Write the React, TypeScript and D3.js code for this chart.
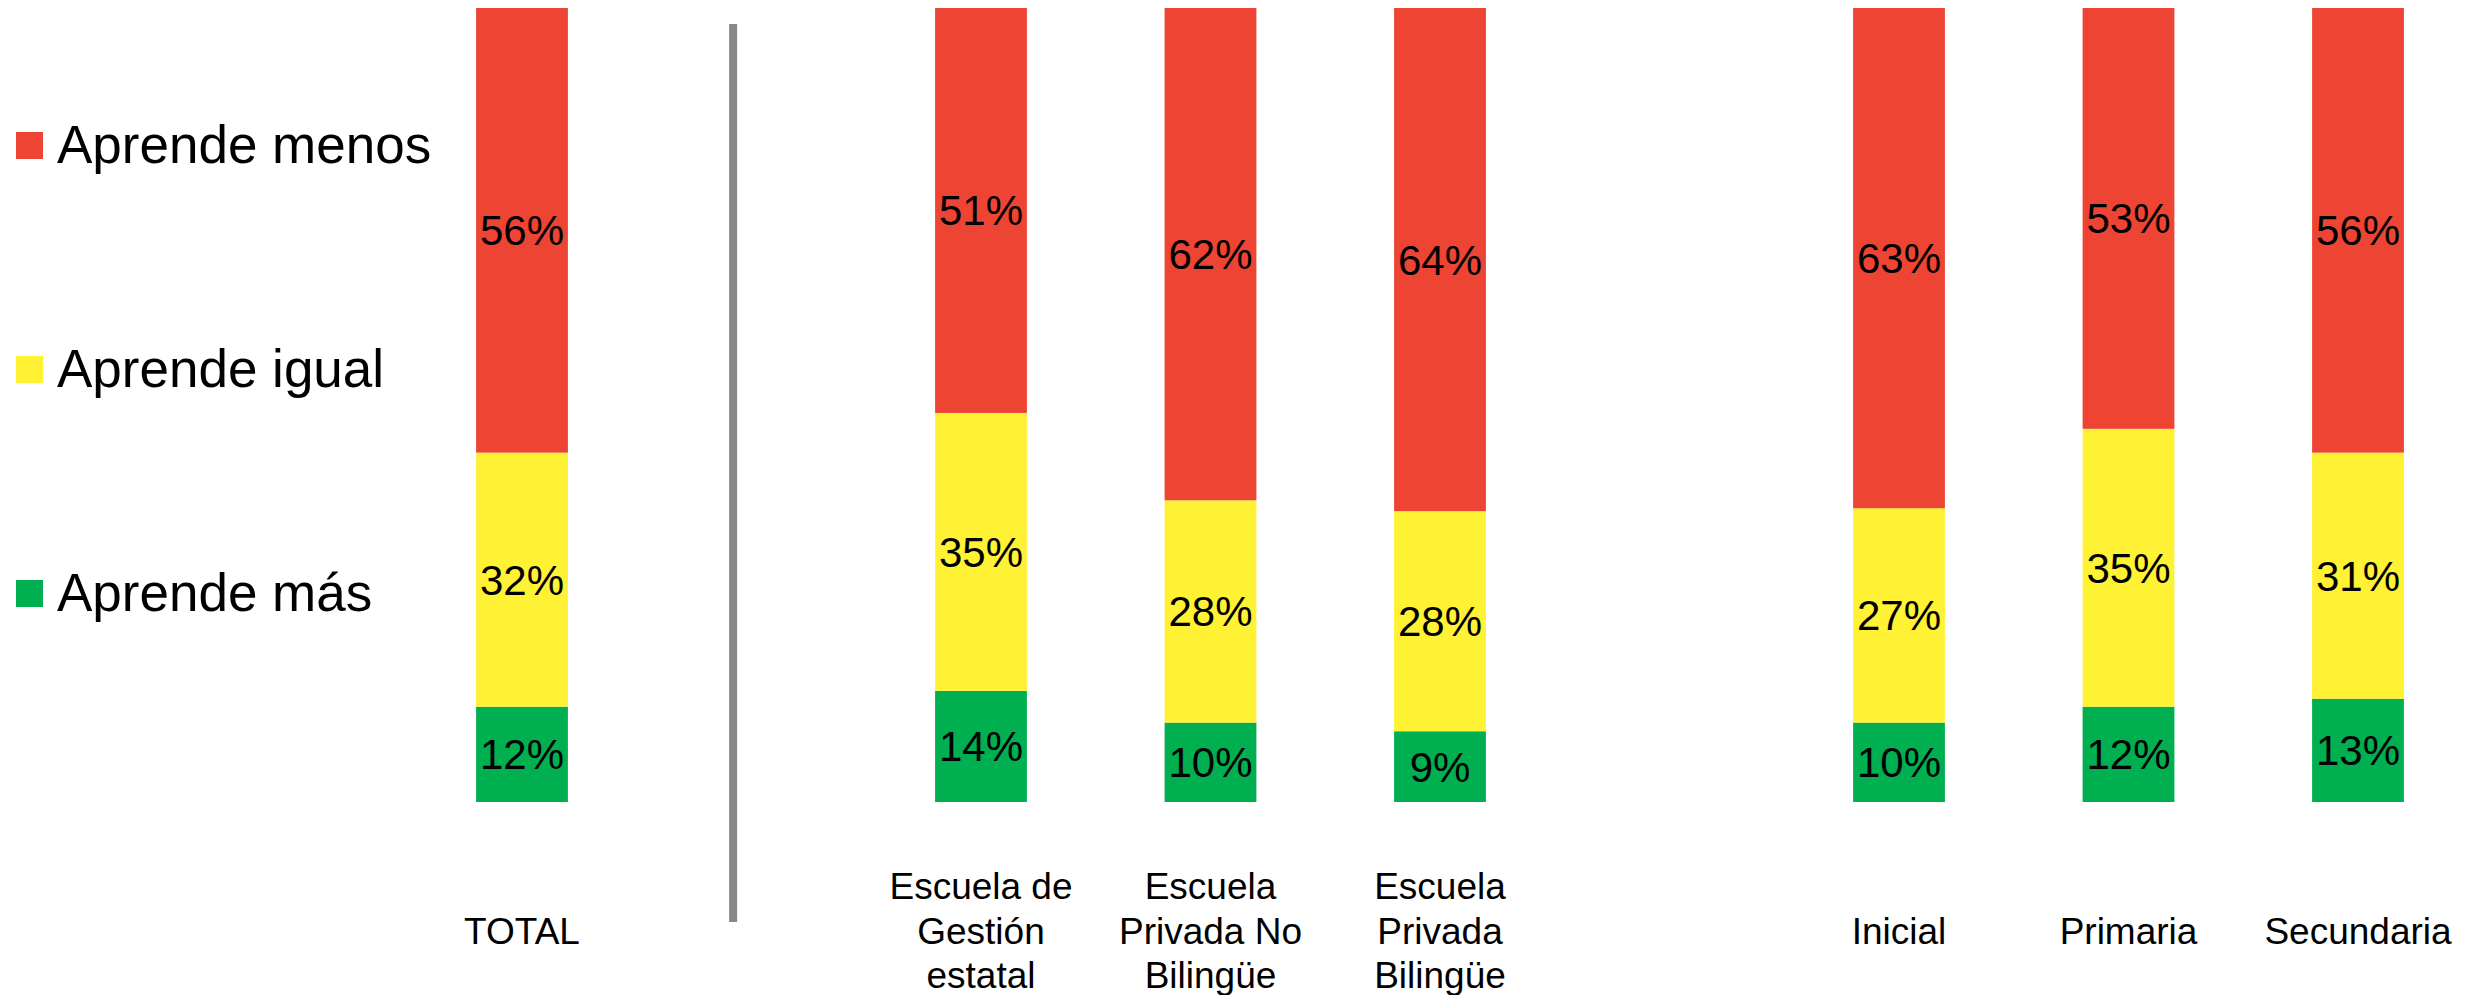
import React from "react";
import * as d3 from "d3";

const categories = [
  "TOTAL",
  "Escuela de Gestión estatal",
  "Escuela Privada No Bilingüe",
  "Escuela Privada Bilingüe",
  "Inicial",
  "Primaria",
  "Secundaria",
];
const labelLines = [
  ["TOTAL"],
  ["Escuela de", "Gestión", "estatal"],
  ["Escuela", "Privada No", "Bilingüe"],
  ["Escuela", "Privada", "Bilingüe"],
  ["Inicial"],
  ["Primaria"],
  ["Secundaria"],
];
const aprendeMenos = [56, 51, 62, 64, 63, 53, 56];
const aprendeIgual = [32, 35, 28, 28, 27, 35, 31];
const aprendeMas = [12, 14, 10, 9, 10, 12, 13];

const seriesKeys = ["Aprende menos", "Aprende igual", "Aprende más"];
const seriesColors = ["#EE4433", "#FFF133", "#00AF50"];

// slot layout: TOTAL | separator | 3 school types | gap | 3 levels
const slots = [
  "TOTAL",
  "_sep",
  "Escuela de Gestión estatal",
  "Escuela Privada No Bilingüe",
  "Escuela Privada Bilingüe",
  "_gap",
  "Inicial",
  "Primaria",
  "Secundaria",
];

const W = 2468;
const H = 995;
const FONT = "'Liberation Sans', Arial, sans-serif";

export default function App() {
  const rows = categories.map((c, i) => ({
    cat: c,
    "Aprende más": aprendeMas[i],
    "Aprende igual": aprendeIgual[i],
    "Aprende menos": aprendeMenos[i],
  }));

  const stackOrder = ["Aprende más", "Aprende igual", "Aprende menos"];
  const stacked = d3
    .stack<any>()
    .keys(stackOrder)
    .offset(d3.stackOffsetExpand)(rows);

  const x = d3.scalePoint<string>().domain(slots).range([522, 2358]);
  const step = x.step();
  const barW = step * 0.4;
  const y = d3.scaleLinear().domain([0, 1]).range([802, 8]);

  const color = (k: string) => seriesColors[seriesKeys.indexOf(k)];
  const valueOf = (k: string, i: number) =>
    k === "Aprende menos" ? aprendeMenos[i] : k === "Aprende igual" ? aprendeIgual[i] : aprendeMas[i];

  const sepX = (x("_sep") as number) - step * 0.08;

  const legendBaselines = [163, 387, 611];

  return (
    <svg
      width={W}
      height={H}
      style={{ position: "absolute", left: 0, top: 0, display: "block", background: "#fff" }}
      fontFamily={FONT}
    >
      {stacked.map((layer) => (
        <g key={layer.key} fill={color(layer.key)}>
          {layer.map((d, i) => {
            const cx = x(categories[i]) as number;
            const y0 = y(d[1]);
            const y1 = y(d[0]);
            return (
              <rect key={i} x={cx - barW / 2} y={y0} width={barW} height={y1 - y0} />
            );
          })}
        </g>
      ))}
      {stacked.map((layer) => (
        <g key={"l" + layer.key}>
          {layer.map((d, i) => {
            const cx = x(categories[i]) as number;
            const cy = (y(d[1]) + y(d[0])) / 2;
            return (
              <text
                key={i}
                x={cx}
                y={cy + 15}
                textAnchor="middle"
                fontSize={42}
                fill="#000"
              >
                {valueOf(layer.key, i)}%
              </text>
            );
          })}
        </g>
      ))}
      <line x1={sepX} x2={sepX} y1={24} y2={922} stroke="#888888" strokeWidth={8} />
      {categories.map((c, i) => {
        const lines = labelLines[i];
        const cx = x(c) as number;
        return (
          <text key={c} textAnchor="middle" fontSize={37} fill="#000">
            {lines.map((ln, j) => (
              <tspan key={j} x={cx} y={943.5 + (j - (lines.length - 1) / 2) * 44.5}>
                {ln}
              </tspan>
            ))}
          </text>
        );
      })}
      {seriesKeys.map((k, i) => (
        <g key={k}>
          <rect x={16} y={legendBaselines[i] - 31} width={27} height={27} fill={seriesColors[i]} />
          <text x={57} y={legendBaselines[i]} fontSize={53} fill="#000">
            {k}
          </text>
        </g>
      ))}
    </svg>
  );
}
